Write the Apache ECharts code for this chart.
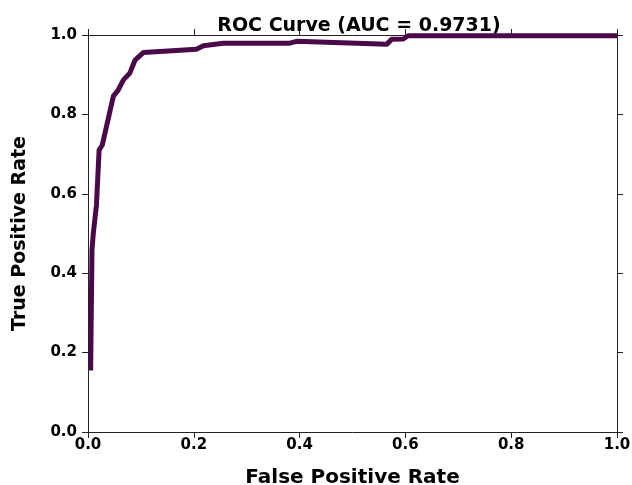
<!DOCTYPE html>
<html>
<head>
<meta charset="utf-8">
<script src="https://cdn.jsdelivr.net/npm/echarts@6/dist/echarts.min.js"></script>
<style>
html, body { margin: 0; padding: 0; background: #fff; }
#chart { width: 632px; height: 485px; }
</style>
</head>
<body>
<div id="chart"></div>
<script>
// ROC points
const fpr = [0.005, 0.0075, 0.010, 0.016, 0.021, 0.027, 0.048, 0.057, 0.067, 0.079, 0.089, 0.105, 0.205, 0.218, 0.256, 0.380, 0.394, 0.565, 0.574, 0.596, 0.605, 1.0]
const tpr = [0.155, 0.458, 0.500, 0.572, 0.710, 0.723, 0.846, 0.861, 0.887, 0.904, 0.937, 0.956, 0.964, 0.973, 0.979, 0.979, 0.984, 0.977, 0.989, 0.990, 0.998, 0.998]
const ticks = [0, 0.2, 0.4, 0.6, 0.8, 1.0]
const titleText = 'ROC Curve (AUC = 0.9731)'

const font = 'DejaVu Sans'
const chart = echarts.init(document.getElementById('chart'), null, { renderer: 'canvas' })

let points = []
for (let i = 0; i < fpr.length; i++) {
    points.push([fpr[i], tpr[i]])
}

const axisLine = { show: true, onZero: false, lineStyle: { color: '#222', width: 1 } }
const axisTick = { show: true, inside: false, length: 6, lineStyle: { color: '#222', width: 1 } }
const label = {
    fontFamily: font, fontWeight: 'bold', fontSize: 15, color: '#000',
    formatter: v => v.toFixed(1),
}
const scale = { type: 'value', min: ticks[0], max: ticks[ticks.length - 1], interval: 0.2, splitLine: { show: false } }

chart.setOption({
    animation: false,
    title: {
        text: titleText,
        left: 354,
        top: 12,
        textAlign: 'center',
        textStyle: { fontFamily: font, fontWeight: 'bold', fontSize: 19, color: '#000' },
    },
    grid: { left: 88, right: 15, top: 35, bottom: 53, outerBoundsMode: 'none', containLabel: false },
    xAxis: [
        Object.assign({}, scale, {
            position: 'bottom',
            name: 'False Positive Rate',
            nameLocation: 'middle',
            nameGap: 36,
            nameTextStyle: { fontFamily: font, fontWeight: 'bold', fontSize: 20, color: '#000' },
            axisLine: axisLine, axisTick: axisTick,
            axisLabel: Object.assign({ margin: 6 }, label),
        }),
        Object.assign({}, scale, {
            position: 'top',
            axisLine: axisLine, axisTick: axisTick,
            axisLabel: { show: false },
        }),
    ],
    yAxis: [
        Object.assign({}, scale, {
            position: 'left',
            name: 'True Positive Rate',
            nameLocation: 'middle',
            nameGap: 58,
            nameTextStyle: { fontFamily: font, fontWeight: 'bold', fontSize: 19, color: '#000' },
            axisLine: axisLine, axisTick: axisTick,
            axisLabel: Object.assign({ margin: 11 }, label),
        }),
        Object.assign({}, scale, {
            position: 'right',
            axisLine: axisLine, axisTick: axisTick,
            axisLabel: { show: false },
        }),
    ],
    series: [{
        type: 'line',
        data: points,
        xAxisIndex: 0,
        yAxisIndex: 0,
        showSymbol: false,
        lineStyle: { color: '#4a0a4a', width: 5, join: 'round' },
    }],
})
</script>
</body>
</html>
